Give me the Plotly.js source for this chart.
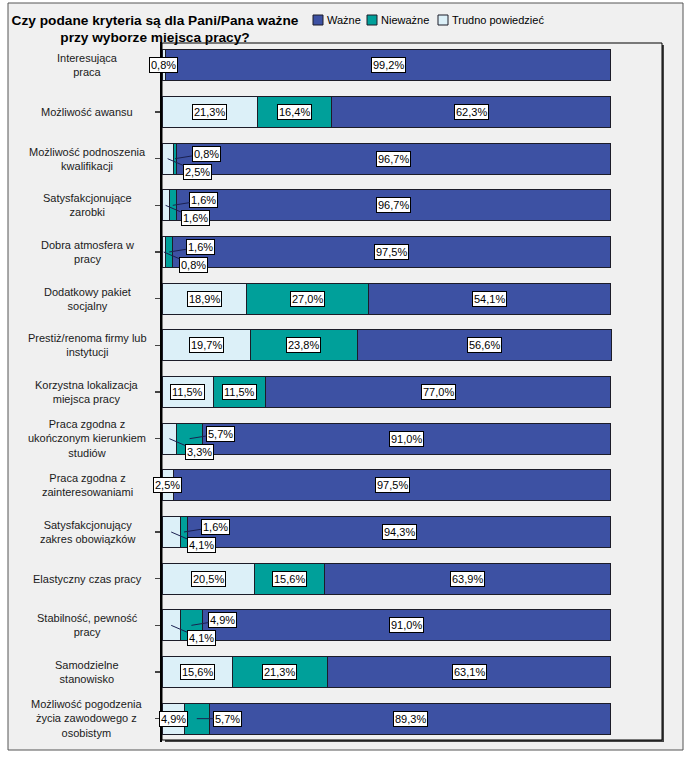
<!DOCTYPE html>
<html>
<head>
<meta charset="utf-8">
<script src="https://cdn.plot.ly/plotly-3.0.1.min.js"></script>
<style>html,body{margin:0;padding:0;background:#fff;}#chart{width:688px;height:758px;}</style>
</head>
<body>
<div id="chart"></div>
<script>
// ---- data ----
const categories = [
  "Interesująca praca",
  "Możliwość awansu",
  "Możliwość podnoszenia kwalifikacji",
  "Satysfakcjonujące zarobki",
  "Dobra atmosfera w pracy",
  "Dodatkowy pakiet socjalny",
  "Prestiż/renoma firmy lub instytucji",
  "Korzystna lokalizacja miejsca pracy",
  "Praca zgodna z ukończonym kierunkiem studiów",
  "Praca zgodna z zainteresowaniami",
  "Satysfakcjonujący zakres obowiązków",
  "Elastyczny czas pracy",
  "Stabilność, pewność pracy",
  "Samodzielne stanowisko",
  "Możliwość pogodzenia życia zawodowego z osobistym"
];
const tickLabels = [
  "Interesująca<br>praca",
  "Możliwość awansu",
  "Możliwość podnoszenia<br>kwalifikacji",
  "Satysfakcjonujące<br>zarobki",
  "Dobra atmosfera w<br>pracy",
  "Dodatkowy pakiet<br>socjalny",
  "Prestiż/renoma firmy lub<br>instytucji",
  "Korzystna lokalizacja<br>miejsca pracy",
  "Praca zgodna z<br>ukończonym kierunkiem<br>studiów",
  "Praca zgodna z<br>zainteresowaniami",
  "Satysfakcjonujący<br>zakres obowiązków",
  "Elastyczny czas pracy",
  "Stabilność, pewność<br>pracy",
  "Samodzielne<br>stanowisko",
  "Możliwość pogodzenia<br>życia zawodowego z<br>osobistym"
];
const trudno   = [0.8, 21.3, 2.5, 1.6, 0.8, 18.9, 19.7, 11.5, 3.3, 2.5, 4.1, 20.5, 4.1, 15.6, 4.9];
const niewazne = [0.0, 16.4, 0.8, 1.6, 1.6, 27.0, 23.8, 11.5, 5.7, 0.0, 1.6, 15.6, 4.9, 21.3, 5.7];
const wazne    = [99.2, 62.3, 96.7, 96.7, 97.5, 54.1, 56.6, 77.0, 91.0, 97.5, 94.3, 63.9, 91.0, 63.1, 89.3];
const seriesNames = ["Trudno powiedzieć", "Nieważne", "Ważne"];

// ---- styles ----
const colors = ["#dcf0f8", "#00a09a", "#3d51a3"];
const FONT = "Liberation Sans, Arial, sans-serif";
const fmt = v => v.toFixed(1).replace('.', ',') + '%';

const W = 688, H = 758, ML = 162, MR = 25, MT = 42, MB = 16;
const PW = W - ML - MR, PH = H - MT - MB;
const px = x => (x - ML) / PW;       // pixel -> paper x
const py = y => (H - MB - y) / PH;   // pixel -> paper y

const series = [trudno, niewazne, wazne];
const traces = series.map((vals, i) => ({
  type: 'bar', orientation: 'h', name: seriesNames[i],
  y: categories, x: vals,
  marker: {color: colors[i], line: {color: '#1c1c28', width: 1}},
  width: 0.66, hoverinfo: 'skip', showlegend: false
}));

const annotations = [];
const shapes = [
  // outer frame
  {type: 'rect', xref: 'paper', yref: 'paper', x0: px(8), x1: px(683), y0: py(750), y1: py(3),
    fillcolor: '#f0f0f0', line: {color: '#555', width: 1}, layer: 'below'},
  // inner plot box shadow
  {type: 'rect', xref: 'paper', yref: 'paper', x0: px(165), x1: px(664), y0: py(742), y1: py(45),
    fillcolor: '#444', line: {width: 0}, layer: 'below'},
  // inner plot box
  {type: 'rect', xref: 'paper', yref: 'paper', x0: px(162), x1: px(662), y0: py(740), y1: py(43),
    fillcolor: '#f0f0f0', line: {color: '#000', width: 1}, layer: 'below'}
];

// legend (Ważne, Nieważne, Trudno powiedzieć)
const legendX = [313, 367, 438];
[2, 1, 0].forEach((si, k) => {
  const x = legendX[k];
  shapes.push({type: 'rect', xref: 'paper', yref: 'paper', x0: px(x), x1: px(x + 10), y0: py(25), y1: py(15),
    fillcolor: colors[si], line: {color: '#1c1c28', width: 1}});
  annotations.push({xref: 'paper', yref: 'paper', x: px(x + 12), y: py(20), text: seriesNames[si],
    showarrow: false, xanchor: 'left', yanchor: 'middle', font: {family: FONT, size: 11, color: '#000'}});
});

// category labels (centered, multi-line)
categories.forEach((c, i) => {
  annotations.push({
    xref: 'paper', yref: 'y', x: px(87), y: c, text: tickLabels[i],
    showarrow: false, xanchor: 'center', yanchor: 'middle', align: 'center',
    font: {family: FONT, size: 11, color: '#1a1a1a'}
  });
});
// value labels
const boxStyle = {bgcolor: '#ffffff', bordercolor: '#000000', borderwidth: 1, borderpad: 1,
  font: {family: FONT, size: 11, color: '#000'}};
categories.forEach((c, i) => {
  const t = trudno[i], n = niewazne[i], w = wazne[i];
  const tSmall = t < 4.5 && n > 0;
  const nSmall = n > 0 && n < 8;
  if (t > 0) {
    const a = Object.assign({x: t / 2, y: c, xref: 'x', yref: 'y', text: fmt(t)}, boxStyle);
    if (tSmall) Object.assign(a, {showarrow: true, arrowhead: 0, arrowwidth: 1, arrowcolor: '#1a2050', ax: 30, ay: 13, standoff: 0});
    else a.showarrow = false;
    annotations.push(a);
  }
  if (n > 0) {
    const a = Object.assign({x: t + n / 2, y: c, xref: 'x', yref: 'y', text: fmt(n)}, boxStyle);
    if (nSmall) Object.assign(a, {showarrow: true, arrowhead: 0, arrowwidth: 1, arrowcolor: '#1a2050', ax: 31, ay: tSmall ? -5 : 0, standoff: 0});
    else a.showarrow = false;
    annotations.push(a);
  }
  annotations.push(Object.assign({x: t + n + w / 2, y: c, xref: 'x', yref: 'y', text: fmt(w), showarrow: false}, boxStyle));
});

const layout = {
  width: W, height: H,
  margin: {l: ML, r: MR, t: MT, b: MB, autoexpand: false},
  paper_bgcolor: '#ffffff', plot_bgcolor: 'rgba(0,0,0,0)',
  barmode: 'stack', bargap: 0.34,
  font: {family: FONT, size: 11, color: '#000'},
  title: {
    text: '<b>Czy podane kryteria są dla Pani/Pana ważne<br>przy wyborze miejsca pracy?</b>',
    font: {family: FONT, size: 13.7, color: '#000'},
    xref: 'container', yref: 'container', x: 155 / W, xanchor: 'center', y: 0.9675, yanchor: 'top'
  },
  showlegend: false,
  xaxis: {range: [0, 111.6], visible: false, fixedrange: true},
  yaxis: {
    type: 'category', autorange: 'reversed', showticklabels: false,
    ticks: 'outside', ticklen: 5, tickcolor: '#444', tickwidth: 1.5,
    showline: true, linecolor: '#000', linewidth: 2, showgrid: false, zeroline: false
  },
  shapes: shapes,
  annotations: annotations
};

Plotly.newPlot('chart', traces, layout, {displayModeBar: false, staticPlot: true});
</script>
</body>
</html>
